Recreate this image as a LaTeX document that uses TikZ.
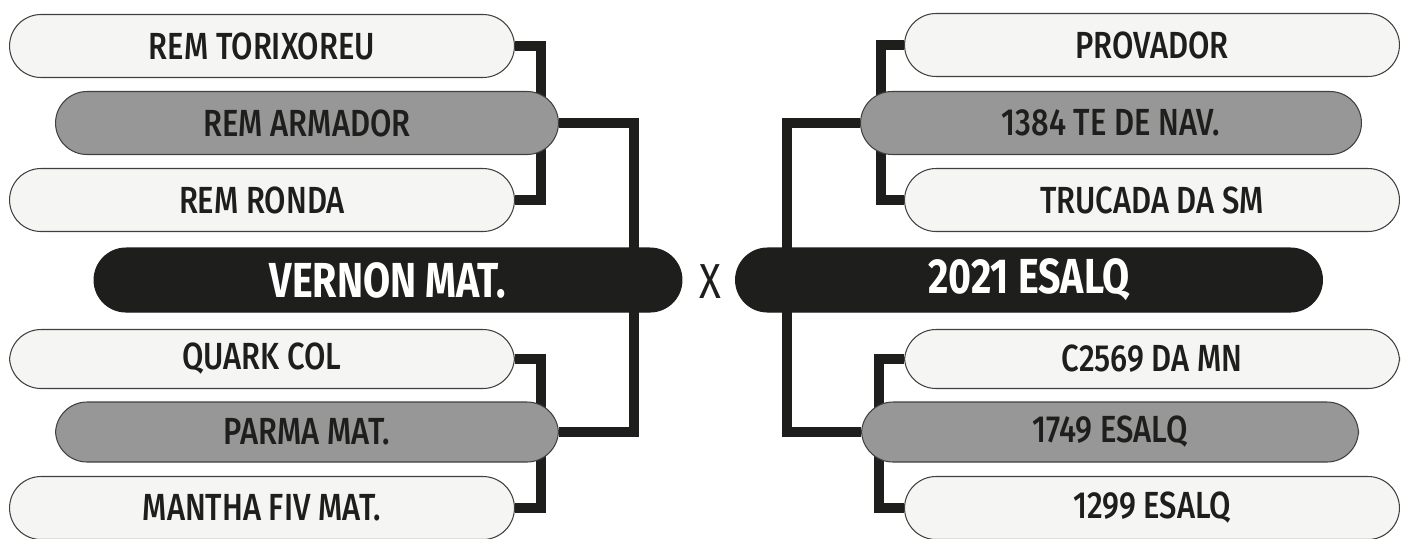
\documentclass[tikz,border=0pt]{standalone}
\usepackage{fontspec}
\usepackage{tikz}
\usetikzlibrary{backgrounds}
\newfontfamily\pillfont[FakeStretch=0.82]{Fira Sans}[UprightFont=* Medium]
\newfontfamily\headfont[FakeStretch=0.8]{Fira Sans}[UprightFont=* Bold]
\newfontfamily\vsfont[FakeStretch=0.82]{Fira Sans}
\definecolor{ink}{HTML}{1e1e1c}
\definecolor{paper}{HTML}{f5f5f3}
\definecolor{mid}{HTML}{979797}

\begin{document}
\begin{tikzpicture}[x=0.02cm,y=-0.02cm,
  pill/.style={draw=ink!85,line width=0.6pt,rounded corners=0.63cm,minimum height=1.26cm,
    inner sep=0pt,text=ink,font=\pillfont\fontsize{21.5}{21.5}\selectfont},
  light/.style={pill,fill=paper,minimum width=10.1cm},
  grey/.style={pill,fill=mid,minimum width=10.06cm},
  champ/.style={pill,draw=ink,fill=ink,text=white,minimum width=11.76cm,minimum height=1.28cm,
    rounded corners=0.64cm,font=\headfont\fontsize{28}{28}\selectfont},
  link/.style={draw=ink,line width=0.2cm,line join=miter}]
\useasboundingbox (0,0) rectangle (1405,538);

% left side
\node[light] (tor) at (262,46) {REM TORIXOREU};
\node[grey] (arm) at (307,123) {REM ARMADOR};
\node[light] (ron) at (262,200) {REM RONDA};
\node[champ] (ver) at (388,280) {VERNON MAT.};
\node[light,minimum height=1.18cm] (qua) at (262,359) {QUARK COL};
\node[grey,minimum height=1.2cm] (par) at (307,432) {PARMA MAT.};
\node[light] (man) at (262,508) {MANTHA FIV MAT.};

\node[text=ink,font=\vsfont\fontsize{28}{28}\selectfont] (vs) at (710,282) {X};

% right side
\node[light,minimum width=9.9cm] (pro) at (1152,45) {PROVADOR};
\node[grey,minimum width=10.02cm] (nav) at (1111,123) {1384 TE DE NAV.};
\node[light,minimum width=9.9cm] (tru) at (1152,200) {TRUCADA DA SM};
\node[champ,minimum width=11.74cm] (esa) at (1029,280) {2021 ESALQ};
\node[light,minimum width=9.9cm,minimum height=1.18cm] (c25) at (1152,359) {C2569 DA MN};
\node[grey,minimum width=9.94cm,minimum height=1.2cm] (e17) at (1110,432) {1749 ESALQ};
\node[light,minimum width=9.9cm] (e12) at (1152,508) {1299 ESALQ};

\begin{scope}[on background layer]
\draw[link] (tor.east) -- ++(26,0) |- (ron.east);
\draw[link] (arm.east) -- ++(75,0) |- (par.east);
\draw[link] (qua.east) -- ++(26,0) |- (man.east);
\draw[link] (pro.west) -- ++(-23,0) |- (tru.west);
\draw[link] (nav.west) -- ++(-73,0) |- (e17.west);
\draw[link] (c25.west) -- ++(-25,0) |- (e12.west);
\end{scope}
\end{tikzpicture}
\end{document}
